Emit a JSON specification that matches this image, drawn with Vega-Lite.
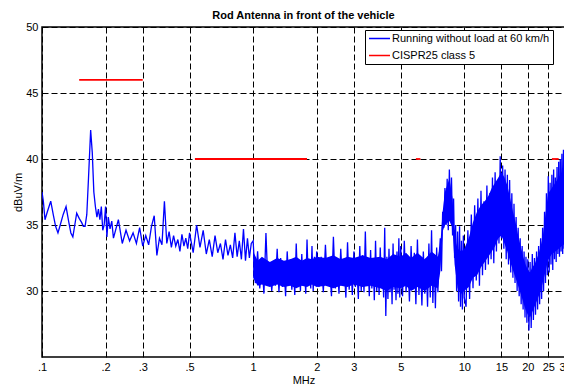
{
"$schema": "https://vega.github.io/schema/vega-lite/v6.json",
"width": 523, "height": 330,
"autosize": {"type": "none"},
"padding": {"left": 42, "top": 27, "right": 0, "bottom": 27},
"background": "white",
"title": {"text": "Rod Antenna in front of the vehicle", "fontSize": 11, "fontWeight": "bold", "font": "Liberation Sans", "color": "#000", "anchor": "middle", "offset": 0},
"config": {
 "view": {"stroke": "#000", "strokeWidth": 1.5},
 "axis": {"labelFont": "Liberation Sans", "titleFont": "Liberation Sans", "labelFontSize": 11, "titleFontSize": 11, "titleFontWeight": "normal", "labelColor": "#000", "titleColor": "#000", "domain": false, "ticks": false, "grid": true, "gridColor": "#000", "gridDash": [6, 3], "gridOpacity": 1, "gridWidth": 1}
},
"datasets": {
"band": [
{"f":1.0,"lo":31.0,"hi":33.0},{"f":1.05,"lo":30.4,"hi":32.3},{"f":1.1,"lo":30.5,"hi":32.6},{"f":1.2,"lo":30.3,"hi":32.2},{"f":1.3,"lo":30.5,"hi":32.5},{"f":1.4,"lo":30.3,"hi":32.3},{"f":1.5,"lo":30.4,"hi":32.4},{"f":1.6,"lo":30.2,"hi":32.6},{"f":1.7,"lo":30.4,"hi":32.3},{"f":1.8,"lo":30.3,"hi":32.5},{"f":1.9,"lo":30.5,"hi":32.4},{"f":2.0,"lo":30.3,"hi":32.6},{"f":2.2,"lo":30.4,"hi":32.5},{"f":2.4,"lo":30.2,"hi":32.7},{"f":2.6,"lo":30.4,"hi":32.4},{"f":2.8,"lo":30.3,"hi":32.6},{"f":3.0,"lo":30.5,"hi":32.5},{"f":3.3,"lo":30.3,"hi":32.7},{"f":3.6,"lo":30.4,"hi":32.5},{"f":4.0,"lo":30.2,"hi":32.6},{"f":4.3,"lo":30.0,"hi":32.4},{"f":4.6,"lo":30.3,"hi":32.8},{"f":5.0,"lo":30.2,"hi":32.6},{"f":5.3,"lo":30.4,"hi":32.9},{"f":5.6,"lo":30.0,"hi":32.5},{"f":6.0,"lo":30.3,"hi":32.9},{"f":6.5,"lo":30.0,"hi":32.4},{"f":7.0,"lo":30.4,"hi":33.0},{"f":7.5,"lo":30.2,"hi":32.6},{"f":7.7,"lo":31.5,"hi":33.5},{"f":7.9,"lo":34.5,"hi":36.0},{"f":8.1,"lo":35.0,"hi":37.5},{"f":8.5,"lo":35.3,"hi":38.5},{"f":8.8,"lo":34.8,"hi":37.0},{"f":9.0,"lo":32.0,"hi":34.0},{"f":9.3,"lo":30.2,"hi":33.2},{"f":9.7,"lo":29.8,"hi":33.0},{"f":10.0,"lo":30.0,"hi":33.2},{"f":10.5,"lo":30.3,"hi":34.0},{"f":11.0,"lo":31.0,"hi":35.2},{"f":11.5,"lo":31.2,"hi":36.0},{"f":12.0,"lo":31.8,"hi":36.5},{"f":12.5,"lo":32.2,"hi":36.8},{"f":13.0,"lo":32.6,"hi":37.2},{"f":13.5,"lo":33.0,"hi":37.8},{"f":14.0,"lo":33.4,"hi":38.2},{"f":14.5,"lo":34.0,"hi":38.6},{"f":15.0,"lo":34.2,"hi":39.0},{"f":15.5,"lo":33.6,"hi":38.6},{"f":16.0,"lo":33.0,"hi":38.0},{"f":16.5,"lo":32.2,"hi":37.0},{"f":17.0,"lo":31.6,"hi":36.0},{"f":17.5,"lo":31.0,"hi":35.2},{"f":18.0,"lo":30.4,"hi":34.2},{"f":18.5,"lo":29.8,"hi":33.4},{"f":19.0,"lo":29.2,"hi":32.6},{"f":19.5,"lo":28.6,"hi":32.0},{"f":20.0,"lo":28.2,"hi":31.6},{"f":20.5,"lo":28.0,"hi":31.4},{"f":21.0,"lo":28.4,"hi":31.8},{"f":21.5,"lo":28.8,"hi":32.0},{"f":22.0,"lo":29.2,"hi":32.4},{"f":22.5,"lo":29.6,"hi":32.8},{"f":23.0,"lo":30.0,"hi":33.4},{"f":23.5,"lo":30.6,"hi":34.0},{"f":24.0,"lo":31.2,"hi":35.2},{"f":24.5,"lo":31.8,"hi":36.4},{"f":25.0,"lo":32.4,"hi":37.4},{"f":25.5,"lo":32.6,"hi":37.6},{"f":26.0,"lo":32.8,"hi":37.8},{"f":27.0,"lo":33.0,"hi":38.2},{"f":28.0,"lo":33.2,"hi":38.6},{"f":29.0,"lo":33.4,"hi":39.0},{"f":30.0,"lo":33.6,"hi":39.2}
],
"spec": [
{"f":0.1,"v":37.5},{"f":0.1015,"v":36.8},{"f":0.1033,"v":35.4},{"f":0.106,"v":36.0},{"f":0.11,"v":36.8},{"f":0.113,"v":35.8},{"f":0.116,"v":34.9},{"f":0.119,"v":34.4},{"f":0.122,"v":35.0},{"f":0.126,"v":35.8},{"f":0.13,"v":36.4},{"f":0.134,"v":35.2},{"f":0.137,"v":34.4},{"f":0.14,"v":34.1},{"f":0.143,"v":35.0},{"f":0.146,"v":35.9},{"f":0.15,"v":35.5},{"f":0.154,"v":35.2},{"f":0.157,"v":34.9},{"f":0.16,"v":34.9},{"f":0.163,"v":35.8},{"f":0.166,"v":38.5},{"f":0.17,"v":42.2},{"f":0.173,"v":40.5},{"f":0.176,"v":37.5},{"f":0.179,"v":36.4},{"f":0.182,"v":35.6},{"f":0.185,"v":36.2},{"f":0.188,"v":35.4},{"f":0.191,"v":36.4},{"f":0.194,"v":34.6},{"f":0.197,"v":35.0},{"f":0.2,"v":36.4},{"f":0.203,"v":34.1},{"f":0.206,"v":35.6},{"f":0.21,"v":34.7},{"f":0.214,"v":35.3},{"f":0.218,"v":34.0},
{"f":0.23,"v":35.4},{"f":0.24,"v":33.6},{"f":0.25,"v":34.6},{"f":0.26,"v":33.8},{"f":0.27,"v":34.4},{"f":0.28,"v":33.6},{"f":0.29,"v":34.8},{"f":0.3,"v":33.4},{"f":0.31,"v":34.2},{"f":0.32,"v":33.5},{"f":0.33,"v":34.9},{"f":0.34,"v":35.7},{"f":0.35,"v":32.7},{"f":0.36,"v":34.0},{"f":0.37,"v":33.5},{"f":0.38,"v":36.8},{"f":0.39,"v":33.6},{"f":0.4,"v":34.5},{"f":0.41,"v":33.3},{"f":0.42,"v":34.2},{"f":0.43,"v":33.4},{"f":0.44,"v":33.9},{"f":0.45,"v":33.0},{"f":0.46,"v":34.3},{"f":0.47,"v":33.4},{"f":0.48,"v":34.0},{"f":0.49,"v":33.2},{"f":0.5,"v":34.4},
{"f":0.52,"v":32.9},{"f":0.54,"v":35.0},{"f":0.56,"v":33.3},{"f":0.58,"v":34.6},{"f":0.6,"v":32.8},{"f":0.62,"v":33.9},{"f":0.64,"v":32.6},{"f":0.66,"v":34.2},{"f":0.68,"v":32.9},{"f":0.7,"v":33.6},{"f":0.72,"v":32.4},{"f":0.74,"v":33.9},{"f":0.76,"v":32.7},{"f":0.78,"v":33.5},{"f":0.8,"v":32.5},{"f":0.82,"v":34.4},{"f":0.84,"v":32.6},{"f":0.86,"v":33.8},{"f":0.88,"v":32.4},{"f":0.9,"v":34.7},{"f":0.92,"v":32.3},{"f":0.94,"v":34.0},{"f":0.96,"v":32.5},{"f":0.98,"v":33.6},
{"f":1.0,"v":33.8},{"f":1.025,"v":30.6},{"f":1.05,"v":33.0},{"f":1.075,"v":30.2},{"f":1.1,"v":32.3},{"f":1.125,"v":29.8},{"f":1.15,"v":34.4},{"f":1.175,"v":30.5},{"f":1.2,"v":32.0},{"f":1.225,"v":30.0},{"f":1.25,"v":31.8},{"f":1.275,"v":30.4},{"f":1.3,"v":33.2},{"f":1.325,"v":29.9},{"f":1.35,"v":32.5},{"f":1.375,"v":30.3},{"f":1.4,"v":31.9},{"f":1.425,"v":29.6},{"f":1.45,"v":33.0},{"f":1.475,"v":30.6},{"f":1.5,"v":32.4},{"f":1.525,"v":30.1},{"f":1.55,"v":31.8},{"f":1.575,"v":29.7},{"f":1.6,"v":33.6},{"f":1.625,"v":30.5},{"f":1.65,"v":32.2},{"f":1.675,"v":30.0},{"f":1.7,"v":32.8},{"f":1.725,"v":30.4},{"f":1.75,"v":31.9},{"f":1.775,"v":29.8},{"f":1.8,"v":33.9},{"f":1.825,"v":30.6},{"f":1.85,"v":32.3},{"f":1.875,"v":30.2},{"f":1.9,"v":33.4},{"f":1.925,"v":30.0},{"f":1.95,"v":32.6},{"f":1.975,"v":30.5},{"f":2.0,"v":33.0},
{"f":2.05,"v":30.3},{"f":2.1,"v":32.6},{"f":2.15,"v":29.9},{"f":2.2,"v":33.5},{"f":2.25,"v":30.4},{"f":2.3,"v":32.0},{"f":2.35,"v":29.6},{"f":2.4,"v":34.1},{"f":2.45,"v":30.2},{"f":2.5,"v":32.5},{"f":2.55,"v":29.8},{"f":2.6,"v":33.2},{"f":2.65,"v":30.5},{"f":2.7,"v":31.9},{"f":2.75,"v":29.5},{"f":2.8,"v":33.7},{"f":2.85,"v":30.1},{"f":2.9,"v":32.4},{"f":2.95,"v":29.7},{"f":3.0,"v":33.0},{"f":3.05,"v":30.3},{"f":3.1,"v":31.8},{"f":3.15,"v":29.4},{"f":3.2,"v":33.4},{"f":3.25,"v":30.0},{"f":3.3,"v":32.7},{"f":3.35,"v":29.9},{"f":3.4,"v":34.5},{"f":3.45,"v":30.4},{"f":3.5,"v":32.2},{"f":3.55,"v":29.6},{"f":3.6,"v":33.1},{"f":3.65,"v":30.2},{"f":3.7,"v":32.5},{"f":3.75,"v":29.3},{"f":3.8,"v":33.8},{"f":3.85,"v":30.0},{"f":3.9,"v":32.3},{"f":3.95,"v":29.7},{"f":4.0,"v":33.3},{"f":4.05,"v":30.5},{"f":4.1,"v":32.0},{"f":4.15,"v":29.5},{"f":4.2,"v":34.8},{"f":4.25,"v":28.1},{"f":4.3,"v":32.6},{"f":4.35,"v":29.4},{"f":4.4,"v":33.2},{"f":4.45,"v":29.9},{"f":4.5,"v":32.4},{"f":4.55,"v":29.0},{"f":4.6,"v":33.6},{"f":4.65,"v":30.1},{"f":4.7,"v":32.1},{"f":4.75,"v":29.3},{"f":4.8,"v":33.0},{"f":4.85,"v":29.8},{"f":4.9,"v":34.0},{"f":4.95,"v":29.5},{"f":5.0,"v":33.4},
{"f":5.1,"v":29.6},{"f":5.2,"v":33.8},{"f":5.3,"v":29.9},{"f":5.4,"v":32.6},{"f":5.5,"v":29.2},{"f":5.6,"v":33.4},{"f":5.7,"v":30.1},{"f":5.8,"v":32.9},{"f":5.9,"v":29.0},{"f":6.0,"v":33.9},{"f":6.1,"v":29.7},{"f":6.2,"v":32.4},{"f":6.3,"v":28.9},{"f":6.4,"v":33.0},{"f":6.5,"v":29.8},{"f":6.6,"v":32.5},{"f":6.7,"v":28.8},{"f":6.8,"v":33.6},{"f":6.9,"v":29.5},{"f":7.0,"v":34.6},{"f":7.1,"v":29.1},{"f":7.2,"v":32.8},{"f":7.3,"v":28.7},{"f":7.4,"v":33.3},{"f":7.5,"v":29.9},{"f":7.6,"v":32.6},{"f":7.7,"v":34.0},{"f":7.8,"v":31.5},{"f":7.9,"v":36.0},{"f":8.0,"v":34.8},{"f":8.1,"v":37.8},{"f":8.2,"v":35.0},{"f":8.3,"v":38.5},{"f":8.4,"v":34.6},{"f":8.5,"v":39.2},{"f":8.6,"v":35.4},{"f":8.7,"v":38.6},{"f":8.8,"v":34.2},{"f":8.9,"v":37.0},{"f":9.0,"v":32.5},{"f":9.1,"v":35.0},{"f":9.2,"v":30.0},{"f":9.3,"v":34.5},{"f":9.4,"v":29.2},{"f":9.5,"v":34.9},{"f":9.6,"v":28.8},{"f":9.7,"v":33.8},{"f":9.8,"v":28.6},{"f":9.9,"v":34.2},{"f":10.0,"v":29.5},
{"f":10.2,"v":28.8},{"f":10.4,"v":34.6},{"f":10.6,"v":29.4},{"f":10.8,"v":35.8},{"f":11.0,"v":30.2},{"f":11.2,"v":36.5},{"f":11.4,"v":30.8},{"f":11.6,"v":37.0},{"f":11.8,"v":30.4},{"f":12.0,"v":37.6},{"f":12.2,"v":31.2},{"f":12.4,"v":36.8},{"f":12.6,"v":31.6},{"f":12.8,"v":38.0},{"f":13.0,"v":32.0},{"f":13.2,"v":37.4},{"f":13.4,"v":32.4},{"f":13.6,"v":38.6},{"f":13.8,"v":32.1},{"f":14.0,"v":39.0},{"f":14.2,"v":33.0},{"f":14.4,"v":38.4},{"f":14.6,"v":33.6},{"f":14.8,"v":40.2},{"f":15.0,"v":34.0},{"f":15.2,"v":39.5},{"f":15.4,"v":33.2},{"f":15.6,"v":39.2},{"f":15.8,"v":32.4},{"f":16.0,"v":38.8},{"f":16.2,"v":32.0},{"f":16.4,"v":38.4},{"f":16.6,"v":31.4},{"f":16.8,"v":37.4},{"f":17.0,"v":31.0},{"f":17.2,"v":36.6},{"f":17.4,"v":30.6},{"f":17.6,"v":35.6},{"f":17.8,"v":30.0},{"f":18.0,"v":34.8},{"f":18.2,"v":29.6},{"f":18.4,"v":34.0},{"f":18.6,"v":29.0},{"f":18.8,"v":33.4},{"f":19.0,"v":28.6},{"f":19.2,"v":33.0},{"f":19.4,"v":28.0},{"f":19.6,"v":32.6},{"f":19.8,"v":27.6},{"f":20.0,"v":32.4},
{"f":20.25,"v":27.0},{"f":20.5,"v":32.2},{"f":20.75,"v":27.2},{"f":21.0,"v":32.8},{"f":21.25,"v":27.8},{"f":21.5,"v":32.5},{"f":21.75,"v":28.2},{"f":22.0,"v":33.0},{"f":22.25,"v":28.6},{"f":22.5,"v":33.4},{"f":22.75,"v":29.0},{"f":23.0,"v":34.0},{"f":23.25,"v":29.4},{"f":23.5,"v":34.8},{"f":23.75,"v":30.0},{"f":24.0,"v":36.0},{"f":24.25,"v":30.6},{"f":24.5,"v":37.4},{"f":24.75,"v":31.2},{"f":25.0,"v":38.7},{"f":25.25,"v":31.4},{"f":25.5,"v":38.2},{"f":25.75,"v":32.0},{"f":26.0,"v":38.8},{"f":26.25,"v":31.6},{"f":26.5,"v":39.2},{"f":26.75,"v":32.4},{"f":27.0,"v":38.6},{"f":27.25,"v":32.2},{"f":27.5,"v":39.4},{"f":27.75,"v":32.8},{"f":28.0,"v":39.8},{"f":28.25,"v":32.6},{"f":28.5,"v":40.0},{"f":28.75,"v":33.0},{"f":29.0,"v":40.4},{"f":29.25,"v":32.8},{"f":29.5,"v":40.7},{"f":29.75,"v":33.2},{"f":30.0,"v":40.2}
],
"lim": [
{"a":0.15,"b":0.3,"v":46},{"a":0.53,"b":1.8,"v":40},{"a":5.9,"b":6.2,"v":40},{"a":26,"b":28,"v":40}
]
},
"layer": [
{"data": {"name": "band"},
 "mark": {"type": "area", "color": "#0000ff", "opacity": 1, "clip": true},
 "encoding": {
  "x": {"field": "f", "type": "quantitative", "scale": {"type": "log", "domain": [0.1, 30], "nice": false},
        "axis": {"values": [0.1, 0.2, 0.3, 0.5, 1, 2, 3, 5, 10, 15, 20, 25, 30], "labelExpr": "datum.value < 1 ? '.' + round(datum.value * 10) : '' + datum.value", "title": "MHz", "labelPadding": 4, "titlePadding": 2, "labelOverlap": false, "labelBound": false, "labelFlush": false}},
  "y": {"field": "lo", "type": "quantitative", "scale": {"domain": [25, 50], "nice": false, "zero": false},
        "axis": {"values": [30, 35, 40, 45, 50], "title": "dBuV/m", "labelPadding": 4, "titlePadding": 2, "labelOverlap": false}},
  "y2": {"field": "hi"}
 }},
{"data": {"name": "spec"},
 "mark": {"type": "line", "strokeWidth": 1.3, "clip": true},
 "encoding": {
  "x": {"field": "f", "type": "quantitative"},
  "y": {"field": "v", "type": "quantitative"},
  "color": {"datum": "Running without load at 60 km/h", "type": "nominal",
            "scale": {"domain": ["Running without load at 60 km/h", "CISPR25 class 5"], "range": ["#0000ff", "#ff0000"]},
            "legend": {"title": null, "orient": "none", "legendX": 323, "legendY": 3, "strokeColor": "#000", "fillColor": "#fff", "padding": 3, "symbolType": "stroke", "symbolSize": 441, "symbolStrokeWidth": 1.5, "clipHeight": 11, "labelFont": "Liberation Sans", "labelFontSize": 11, "labelColor": "#000", "rowPadding": 5, "labelOffset": 1}}
 }},
{"data": {"name": "lim"},
 "mark": {"type": "rule", "strokeWidth": 1.8, "clip": true},
 "encoding": {
  "x": {"field": "a", "type": "quantitative"},
  "x2": {"field": "b"},
  "y": {"field": "v", "type": "quantitative"},
  "color": {"datum": "CISPR25 class 5", "type": "nominal"}
 }}
]
}
